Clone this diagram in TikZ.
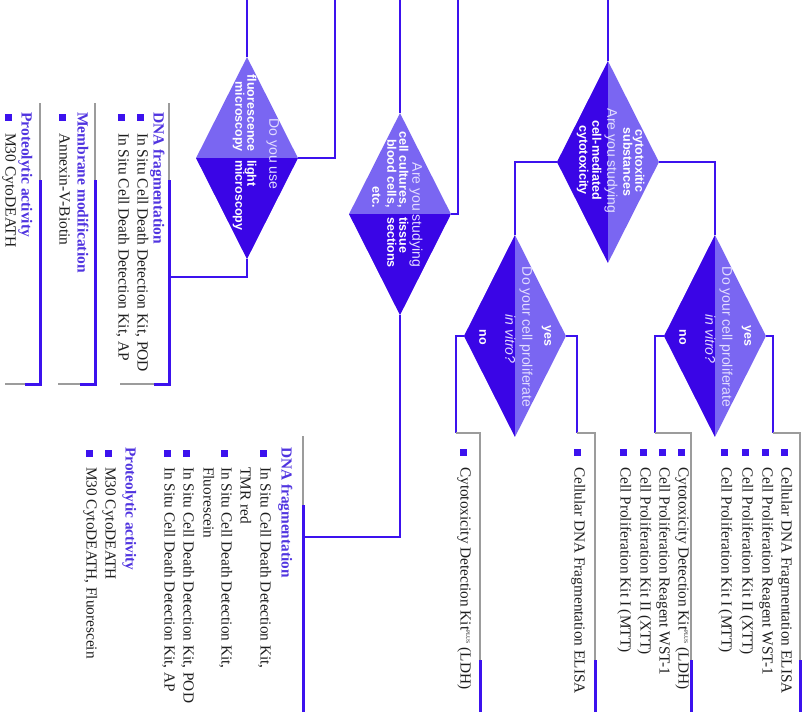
\documentclass[tikz,border=0pt]{standalone}
\usepackage{fontspec}
\setmainfont{Liberation Serif}
\newfontfamily\dsans{Liberation Sans}
\usetikzlibrary{shapes.geometric,calc}
\definecolor{colBlue}{HTML}{3C12EE}
\definecolor{colDark}{HTML}{3A05E6}
\definecolor{colLight}{HTML}{7A66F2}
\definecolor{colPale}{HTML}{E2DDFF}
\definecolor{colHead}{HTML}{5034E0}
\definecolor{colRule}{HTML}{9C9C9C}
\definecolor{colText}{HTML}{1E1E1E}
\def\qfont{\dsans\fontsize{14pt}{16pt}\selectfont}
\def\bfont{\dsans\bfseries\fontsize{12.5pt}{14pt}\selectfont}
\def\lfont{\fontsize{15.5pt}{17pt}\selectfont}
\def\rfont{\fontsize{15.3pt}{18pt}\selectfont}
\newcommand{\kitplus}{\raisebox{0.8ex}{\fontsize{5.5pt}{6pt}\selectfont PLUS}}
\newcommand{\lsthead}[5]{%
  \node[lhead, font=#2] (#1) at (#3,#4) {\bfseries #5};}
\newcommand{\lstitem}[6]{%
  \fill[colBlue] ({#3-3.5},{#4-3.5}) rectangle ++(7,7);%
  \node[litem, font=#2] (#1) at (#3,#5) {#6};}
\newcommand{\lstmore}[5]{%
  \node[litem, font=#2] (#1) at (#3,#4) {#5};}
\newcommand{\lframe}[2]{%
  \draw[rim] (#1,103) -- (#1,180);
  \draw[rimB] (#1,180) -- (#1,384) -- ({#1-15},384);
  \draw[rim] ({#1-15},384) -- (#2,384);}
\newcommand{\rframe}[4]{%
  \draw[rim] (#1,#3) -- (#2,#3) -- (#2,#4);
  \draw[rimB] (#2,#4) -- (#2,712);}

\begin{document}
\begin{tikzpicture}[x=1pt, y=-1pt,
  wire/.style={draw=colBlue, line width=2.2pt},
  rim/.style={draw=colRule, line width=1.3pt},
  rimB/.style={draw=colBlue, line width=3pt},
  dmd/.style={shape=diamond, draw=none, fill=colLight, inner sep=0pt,
    minimum width=102pt, minimum height=202pt},
  darkbot/.style={dmd, path picture={\fill[colDark] (path picture bounding box.west)
    rectangle (path picture bounding box.south east);}},
  darkleft/.style={dmd, path picture={\fill[colDark] (path picture bounding box.south west)
    rectangle (path picture bounding box.north);}},
  dq/.style={rotate=-90, inner sep=0pt, text height=0.72em, text depth=0.2em,
    text=colPale, font=\qfont},
  db/.style={dq, text=white, font=\bfont},
  lhead/.style={rotate=-90, anchor=west, inner sep=0pt, text height=0.72em,
    text depth=0.22em, text=colHead},
  litem/.style={lhead, text=colText}]

\fill[white] (0,0) rectangle (809,712);
\useasboundingbox (0,0) rectangle (809,712);

% ===================== questions =====================
\node[darkbot] (d1) at (247,158) {};
\node[darkbot] (d2) at (400,214) {};
\node[darkleft] (d3) at (608,162) {};
\node[darkleft] (d4) at (515,336) {};
\node[darkleft] (d5) at (715,336) {};

\node[dq] (t1a) at ($(d1)+(25,-4)$) {Do you use};
\node[db, anchor=east] (t1b) at ($(d1)+(3,-6)$) {fluorescence};
\node[db, anchor=west] (t1c) at ($(d1)+(3,2)$) {light};
\node[db, anchor=east] (t1d) at ($(d1)+(-9,-6)$) {microscopy};
\node[db, anchor=west] (t1e) at ($(d1)+(-9,2)$) {microscopy};

\node[dq] (t2a) at ($(d2)+(15,1)$) {Are you studying};
\node[db, anchor=east] (t2b) at ($(d2)+(2,-6)$) {cell cultures,};
\node[db, anchor=west] (t2c) at ($(d2)+(2,3)$) {tissue};
\node[db, anchor=east] (t2d) at ($(d2)+(-10,-6)$) {blood cells,};
\node[db, anchor=west] (t2e) at ($(d2)+(-10,3)$) {sections};
\node[db, anchor=east] (t2f) at ($(d2)+(-25,-6)$) {etc.};

\node[db] (t3a) at ($(d3)+(30,-1)$) {cytotoxitic};
\node[db] (t3b) at ($(d3)+(18,0)$) {substances};
\node[dq] (t3c) at ($(d3)+(2,-1)$) {Are you studying};
\node[db] (t3d) at ($(d3)+(-13,-2)$) {cell-mediated};
\node[db] (t3e) at ($(d3)+(-26,-2)$) {cytotoxicity};

\node[db] (t4a) at ($(d4)+(32,0)$) {yes};
\node[dq] (t4b) at ($(d4)+(10,1)$) {Do your cell proliferate};
\node[dq, font=\qfont\itshape] (t4c) at ($(d4)+(-7,3)$) {in vitro?};
\node[db] (t4d) at ($(d4)+(-33,1)$) {no};

\node[db] (t5a) at ($(d5)+(32,0)$) {yes};
\node[dq] (t5b) at ($(d5)+(10,1)$) {Do your cell proliferate};
\node[dq, font=\qfont\itshape] (t5c) at ($(d5)+(-7,3)$) {in vitro?};
\node[db] (t5d) at ($(d5)+(-33,1)$) {no};

% ===================== connectors =====================
\coordinate (e1) at (247,0);
\coordinate (e2) at (335,0);
\coordinate (e3) at (400,0);
\coordinate (e4) at (458,0);
\coordinate (e5) at (608,0);
\coordinate (cA) at (169,277);
\coordinate (cD) at (303,537);
\coordinate (jE) at (456,433);
\coordinate (jF) at (577,433);
\coordinate (jG) at (655,433);
\coordinate (jH) at (773,433);

\draw[wire] (d1.north) -- (e1);
\draw[wire] (d1.east) -| (e2);
\draw[wire] (d1.south) |- (cA);
\draw[wire] (d2.north) -- (e3);
\draw[wire] (d2.east) -| (e4);
\draw[wire] (d2.south) |- (cD);
\draw[wire] (d3.north) -- (e5);
\draw[wire] (d3.west) -| (d4.north);
\draw[wire] (d3.east) -| (d5.north);
\draw[wire] (d4.west) -| (jE);
\draw[wire] (d4.east) -| (jF);
\draw[wire] (d5.west) -| (jG);
\draw[wire] (d5.east) -| (jH);

% ===================== left lists =====================
\lframe{169}{120}
\lframe{95}{58}
\lframe{40}{5}

\lsthead{hA}{\lfont}{156}{112}{DNA fragmentation}
\lstitem{iA1}{\lfont}{140}{117}{133}{In Situ Cell Death Detection Kit, POD}
\lstitem{iA2}{\lfont}{121}{117}{133}{In Situ Cell Death Detection Kit, AP}

\lsthead{hB}{\lfont}{80}{112}{Membrane modification}
\lstitem{iB1}{\lfont}{62}{117}{133}{Annexin-V-Biotin}

\lsthead{hC}{\lfont}{24}{112}{Proteolytic activity}
\lstitem{iC1}{\lfont}{8}{117}{133}{M30 CytoDEATH}

% ===================== lower lists =====================
\rframe{303}{303}{436}{505}
\rframe{456}{480}{433}{660}
\rframe{577}{595}{433}{660}
\rframe{655}{691}{433}{660}
\rframe{773}{800}{433}{660}

\lsthead{hD}{\rfont}{284}{447}{DNA fragmentation}
\lstitem{iD1}{\rfont}{263}{453}{467}{In Situ Cell Death Detection Kit,}
\lstmore{iD1b}{\rfont}{243}{467}{TMR red}
\lstitem{iD2}{\rfont}{224}{453}{467}{In Situ Cell Death Detection Kit,}
\lstmore{iD2b}{\rfont}{206}{467}{Fluorescein}
\lstitem{iD3}{\rfont}{186}{453}{467}{In Situ Cell Death Detection Kit, POD}
\lstitem{iD4}{\rfont}{167}{453}{467}{In Situ Cell Death Detection Kit, AP}
\lsthead{hD2}{\rfont}{128}{447}{Proteolytic activity}
\lstitem{iD5}{\rfont}{108}{453}{467}{M30 CytoDEATH}
\lstitem{iD6}{\rfont}{89}{453}{467}{M30 CytoDEATH, Fluorescein}

\lstitem{iE1}{\rfont}{463}{452}{467}{Cytotoxicity Detection Kit\kitplus{} (LDH)}

\lstitem{iF1}{\rfont}{577}{452}{467}{Cellular DNA Fragmentation ELISA}

\lstitem{iG1}{\rfont}{681}{452}{467}{Cytotoxicity Detection Kit\kitplus{} (LDH)}
\lstitem{iG2}{\rfont}{662}{452}{467}{Cell Proliferation Reagent WST-1}
\lstitem{iG3}{\rfont}{643}{452}{467}{Cell Proliferation Kit II (XTT)}
\lstitem{iG4}{\rfont}{623}{452}{467}{Cell Proliferation Kit I (MTT)}

\lstitem{iH1}{\rfont}{784}{452}{467}{Cellular DNA Fragmentation ELISA}
\lstitem{iH2}{\rfont}{765}{452}{467}{Cell Proliferation Reagent WST-1}
\lstitem{iH3}{\rfont}{745}{452}{467}{Cell Proliferation Kit II (XTT)}
\lstitem{iH4}{\rfont}{724}{452}{467}{Cell Proliferation Kit I (MTT)}
\end{tikzpicture}
\end{document}
